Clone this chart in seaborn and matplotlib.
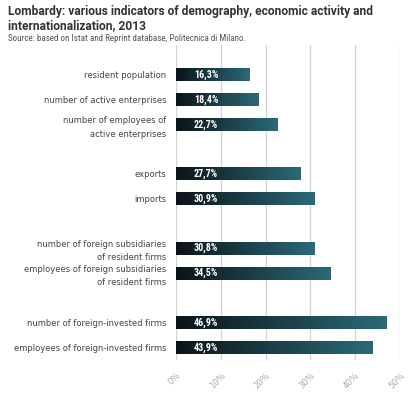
import numpy as np
import pandas as pd
import matplotlib
matplotlib.use("Agg")
import matplotlib.pyplot as plt
from matplotlib.colors import LinearSegmentedColormap
from matplotlib.ticker import FixedLocator
from matplotlib import font_manager
import seaborn as sns

# ---- data ----
categories = [
    "resident population",
    "number of active enterprises",
    "number of employees of\nactive enterprises",
    "exports",
    "imports",
    "number of foreign subsidiaries\nof resident firms",
    "employees of foreign subsidiaries\nof resident firms",
    "number of foreign-invested firms",
    "employees of foreign-invested firms",
]
values = [16.3, 18.4, 22.7, 27.7, 30.9, 30.8, 34.5, 46.9, 43.9]
value_labels = ["16,3%", "18,4%", "22,7%", "27,7%", "30,9%", "30,8%", "34,5%", "46,9%", "43,9%"]
# order of rows, with empty separator rows between groups
row_order = [categories[0], categories[1], categories[2], " ",
             categories[3], categories[4], "  ",
             categories[5], categories[6], "   ",
             categories[7], categories[8]]
x_ticks = [0, 10, 20, 30, 40, 50]
x_tick_labels = ["0%", "10%", "20%", "30%", "40%", "50%"]

title = "Lombardy: various indicators of demography, economic activity and\ninternationalization, 2013"
source = "Source: based on Istat and Reprint database, Politecnica di Milano."

df = pd.DataFrame({"category": categories, "value": values})

sns.set_theme(style="white")
plt.rcParams["font.family"] = ["DejaVu Sans"]

installed = {f.name for f in font_manager.fontManager.ttflist}
narrow = [n for n in ["Liberation Sans Narrow", "DejaVu Sans Condensed", "Roboto Condensed"]
          if n in installed] + ["DejaVu Sans"]
title_fam = [n for n in ["Roboto", "Liberation Sans"] if n in installed] + ["DejaVu Sans"]

fig = plt.figure(figsize=(4.18, 3.95), dpi=100)
ax = fig.add_axes([0.421, 0.089, 0.536, 0.797])

sns.barplot(data=df, y="category", x="value", order=row_order, orient="h",
            color="#1a3a42", width=0.53, ax=ax, zorder=3)

cmap = LinearSegmentedColormap.from_list("bar", ["#0b1418", "#1b3f48", "#2a6a78"])
grad = np.linspace(0, 1, 256).reshape(1, -1)
for p in list(ax.patches):
    x0, y0 = p.get_x(), p.get_y()
    w, h = p.get_width(), p.get_height()
    if w <= 0:
        continue
    im = ax.imshow(grad, cmap=cmap, aspect="auto", extent=[x0, x0 + w, y0 + h, y0],
                   zorder=4, interpolation="bicubic")
    im.set_clip_path(p)
    p.set_edgecolor("none")

# value labels
for cat, lab in zip(categories, value_labels):
    yi = row_order.index(cat)
    ax.text(4.0, yi, lab, color="white", fontsize=7.2, fontweight="bold",
            family=narrow, ha="left", va="center", zorder=5)

ax.set_xlim(0, 50)
ax.set_ylim(11.5, -1.2)
ax.set_xticks(x_ticks)
ax.set_xticklabels(x_tick_labels, rotation=45, ha="right", rotation_mode="anchor",
                   fontsize=6, color="#aaaaaa")
ax.tick_params(axis="x", length=4, color="#cccccc", pad=4)
ax.xaxis.grid(True, color="#d4d4d4", linewidth=0.9, zorder=0)
ax.set_axisbelow(True)

ax.set_yticks(range(len(row_order)))
ax.set_yticklabels(row_order, fontsize=6, color="#444444", linespacing=1.6)
ax.tick_params(axis="y", which="major", length=0, pad=7)
ax.yaxis.set_minor_locator(FixedLocator(np.arange(-0.5, len(row_order), 1.0)))
ax.tick_params(axis="y", which="minor", length=5, color="#cccccc", width=0.9)
ax.set_xlabel("")
ax.set_ylabel("")
for s in ax.spines.values():
    s.set_visible(False)

t_title = fig.text(0.019, 1 - 5 / 395, title, fontsize=8.6, fontweight="bold", color="#333333",
                   family=title_fam, va="top", ha="left", linespacing=1.15)
t_src = fig.text(0.019, 1 - 34 / 395, source, fontsize=4.9, color="#555555", family=narrow,
                 va="top", ha="left")

# fit title / source widths to the reference layout
fig.canvas.draw()
r = fig.canvas.get_renderer()
for t, target in [(t_title, 362.0), (t_src, 236.0)]:
    wpx = t.get_window_extent(r).width
    t.set_fontsize(t.get_fontsize() * target / wpx)

fig.savefig("out.png", dpi=100)
